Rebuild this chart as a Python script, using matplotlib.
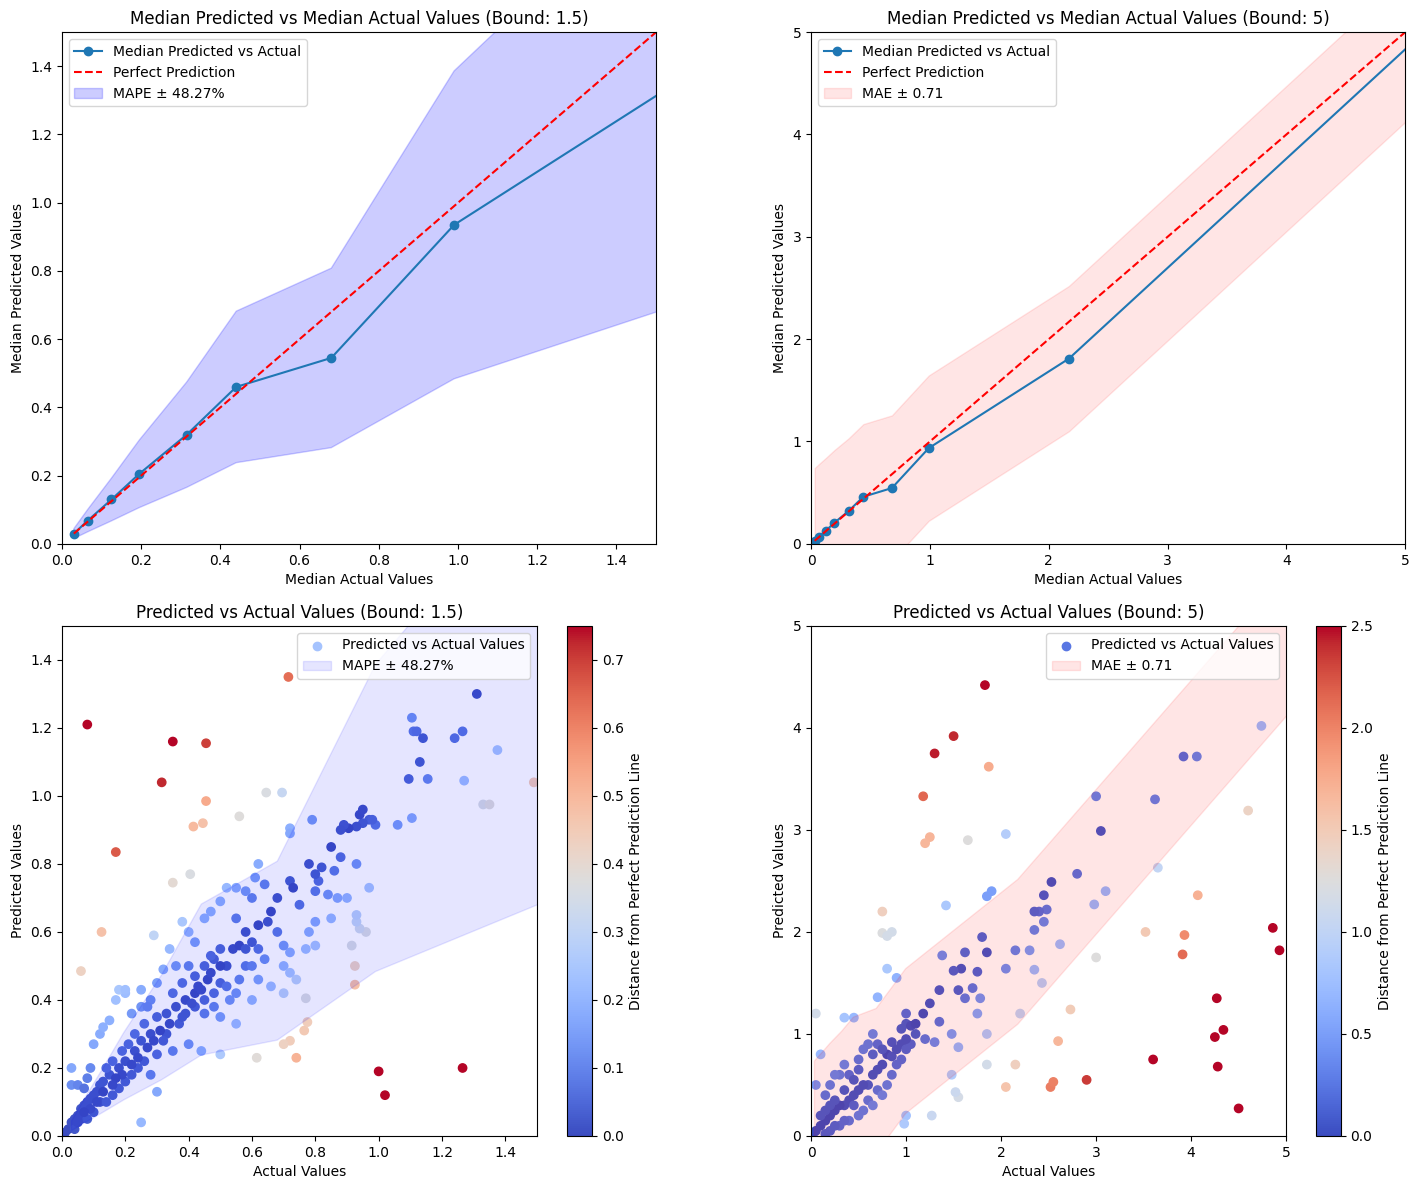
import numpy as np
import matplotlib
matplotlib.use("Agg")
import matplotlib.pyplot as plt

med_actual = [0.03, 0.065, 0.125, 0.195, 0.315, 0.44, 0.68, 0.99, 2.17, 6.0]
med_pred = [0.03, 0.068, 0.13, 0.205, 0.32, 0.46, 0.545, 0.935, 1.81, 5.9]
mape = 0.4827
mae = 0.71

left_pts = [(0.08,1.21),(0.35,1.16),(0.455,1.155),(0.315,1.04),(0.715,1.35),(0.17,0.835),(0.125,0.6),(0.06,0.485),(0.455,0.985),(0.445,0.92),(0.415,0.91),(0.35,0.745),(0.405,0.77),(0.56,0.94),(0.645,1.01),(0.695,1.01),(1.0,0.19),(1.02,0.12),(1.265,0.2),(0.74,0.23),(0.765,0.31),(0.775,0.335),(0.615,0.23),(0.925,0.445),(0.925,0.5),(0.915,0.56),(0.96,0.6),(0.94,0.61),(0.93,0.63),(1.31,1.3),(1.24,1.17),(1.265,1.19),(1.105,1.23),(1.11,1.19),(1.12,1.19),(1.14,1.17),(1.13,1.1),(1.095,1.05),(1.155,1.05),(1.27,1.045),(1.33,0.975),(1.35,0.975),(1.49,1.04),(1.375,1.135),(1.105,0.935),(1.06,0.915),(0.97,0.93),(0.99,0.915),(0.95,0.92),(0.93,0.91),(0.94,0.945),(0.905,0.905),(0.89,0.915),(0.88,0.9),(0.85,0.85),(0.88,0.82),(0.86,0.78),(0.79,0.93),(0.72,0.905),(0.72,0.89),(0.72,0.75),(0.73,0.73),(0.75,0.68),(0.8,0.72),(0.81,0.75),(0.78,0.8),(0.8,0.77),(0.82,0.79),(0.84,0.71),(0.87,0.7),(0.9,0.7),(0.97,0.73),(0.93,0.65),(0.85,0.64),(0.8,0.63),(0.78,0.6),(0.77,0.55),(0.72,0.54),(0.7,0.56),(0.68,0.6),(0.68,0.7),(0.66,0.66),(0.64,0.74),(0.61,0.76),(0.6,0.7),(0.58,0.72),(0.55,0.73),(0.52,0.73),(0.5,0.69),(0.47,0.66),(0.45,0.64),(0.55,0.64),(0.62,0.62),(0.6,0.57),(0.58,0.5),(0.62,0.46),(0.66,0.44),(0.7,0.5),(0.72,0.48),(0.74,0.46),(0.77,0.405),(0.7,0.42),(0.72,0.28),(0.7,0.27),(0.6,0.4),(0.55,0.42),(0.53,0.4),(0.5,0.35),(0.55,0.33),(0.5,0.24),(0.44,0.25),(0.4,0.27),(0.35,0.25),(0.3,0.24),(0.33,0.3),(0.37,0.33),(0.42,0.38),(0.45,0.4),(0.48,0.42),(0.5,0.45),(0.52,0.5),(0.54,0.55),(0.5,0.55),(0.48,0.52),(0.45,0.5),(0.42,0.47),(0.4,0.5),(0.38,0.45),(0.35,0.42),(0.36,0.5),(0.34,0.55),(0.32,0.49),(0.3,0.45),(0.28,0.4),(0.25,0.38),(0.22,0.36),(0.2,0.42),(0.18,0.43),(0.2,0.43),(0.17,0.4),(0.29,0.59),(0.38,0.63),(0.4,0.6),(0.42,0.57),(0.25,0.43),(0.27,0.38),(0.3,0.35),(0.28,0.3),(0.25,0.28),(0.23,0.25),(0.2,0.22),(0.18,0.2),(0.15,0.18),(0.12,0.15),(0.1,0.12),(0.08,0.1),(0.06,0.08),(0.04,0.05),(0.02,0.02),(0.01,0.01),(0.03,0.04),(0.05,0.06),(0.07,0.09),(0.09,0.11),(0.11,0.13),(0.13,0.16),(0.14,0.2),(0.16,0.22),(0.19,0.25),(0.21,0.27),(0.23,0.3),(0.26,0.33),(0.12,0.3),(0.1,0.27),(0.13,0.32),(0.15,0.34),(0.03,0.15),(0.03,0.2),(0.05,0.15),(0.07,0.14),(0.09,0.2),(0.08,0.17),(0.06,0.05),(0.04,0.02),(0.08,0.05),(0.1,0.07),(0.12,0.1),(0.14,0.1),(0.16,0.12),(0.18,0.14),(0.2,0.16),(0.22,0.18),(0.24,0.2),(0.26,0.22),(0.3,0.13),(0.25,0.04),(0.28,0.18),(0.32,0.28),(0.38,0.35),(0.42,0.42),(0.46,0.46),(0.36,0.38),(0.33,0.36),(0.39,0.4),(0.43,0.44),(0.47,0.53),(0.5,0.5),(0.56,0.56),(0.58,0.55),(0.62,0.55),(0.65,0.63),(0.45,0.36),(0.48,0.38),(0.52,0.44),(0.56,0.46),(0.6,0.5),(0.64,0.52),(0.8,0.56),(0.62,0.8),(0.58,0.6),(0.39,0.36),(0.41,0.39),(0.44,0.43),(0.47,0.48),(0.34,0.33),(0.31,0.31),(0.29,0.28),(0.27,0.26),(0.24,0.23),(0.22,0.21),(0.19,0.18),(0.17,0.17),(0.16,0.15),(0.13,0.13),(0.11,0.1),(0.09,0.08),(0.07,0.07),(0.05,0.04),(0.95,0.96),(0.93,0.8),(0.98,0.93)]

right_pts = [(1.83,4.42),(1.5,3.92),(1.3,3.75),(1.87,3.62),(1.18,3.33),(1.25,2.93),(1.2,2.87),(1.65,2.9),(2.05,2.96),(1.85,2.35),(1.9,2.4),(1.42,2.26),(0.75,2.2),(0.75,1.99),(0.85,2.0),(0.8,1.96),(0.8,1.64),(0.7,1.36),(0.05,1.2),(0.35,1.16),(0.45,1.16),(0.65,1.0),(1.0,0.2),(0.98,0.12),(1.27,0.2),(1.55,0.38),(1.52,0.43),(1.48,0.6),(1.85,0.7),(2.15,0.7),(2.05,0.48),(2.52,0.48),(2.55,0.53),(2.6,0.93),(2.9,0.55),(2.73,1.24),(3.0,1.75),(2.98,2.27),(3.1,2.4),(3.0,3.33),(3.05,2.99),(3.52,2.0),(3.65,2.63),(3.62,3.3),(3.92,3.72),(4.06,3.72),(4.6,3.19),(4.74,4.02),(4.07,2.36),(3.93,1.97),(3.91,1.78),(4.27,1.35),(4.34,1.04),(4.25,0.97),(4.28,0.68),(3.6,0.75),(4.5,0.27),(4.86,2.04),(4.93,1.82),(2.8,2.57),(2.53,2.49),(2.45,2.36),(2.48,2.22),(2.4,2.2),(2.35,2.2),(2.45,2.1),(2.35,2.02),(2.3,1.82),(2.15,1.82),(2.05,1.64),(2.35,1.63),(2.62,1.88),(2.43,1.5),(2.2,1.2),(1.8,1.95),(1.85,1.8),(1.62,1.8),(1.75,1.61),(1.58,1.64),(1.5,1.62),(1.55,1.43),(1.62,1.35),(1.7,1.45),(1.78,1.35),(1.75,1.2),(1.85,1.0),(1.38,1.77),(1.35,1.43),(1.25,1.3),(1.18,1.2),(1.35,1.12),(1.55,0.87),(1.48,1.0),(1.2,0.95),(1.3,0.92),(1.1,1.0),(1.0,1.2),(1.0,1.1),(0.95,1.05),(1.05,1.08),(1.1,1.1),(0.9,1.55),(1.05,0.9),(0.95,0.9),(0.85,0.92),(0.8,0.8),(0.75,0.7),(0.7,0.65),(0.65,0.6),(0.6,0.5),(0.55,0.5),(0.5,0.45),(0.45,0.4),(0.4,0.35),(0.35,0.3),(0.3,0.3),(0.25,0.25),(0.2,0.2),(0.15,0.15),(0.1,0.1),(0.05,0.05),(0.02,0.02),(0.1,0.2),(0.15,0.4),(0.2,0.5),(0.3,0.6),(0.35,0.7),(0.4,0.6),(0.5,0.75),(0.55,0.85),(0.6,0.9),(0.7,0.9),(0.75,0.85),(0.85,0.78),(0.6,0.35),(0.7,0.45),(0.8,0.5),(0.5,0.2),(0.4,0.15),(0.3,0.1),(0.2,0.05),(0.15,0.02),(0.1,0.8),(0.05,0.5),(0.25,0.6),(0.65,0.3),(0.55,0.25),(0.45,0.3),(0.35,0.15),(0.25,0.1),(0.9,0.7),(0.85,0.6),(0.75,0.4),(0.65,0.8),(0.45,0.55),(0.35,0.45),(0.25,0.35),(0.2,0.3),(0.15,0.25),(0.5,0.65),(0.9,0.85),(1.0,0.85),(1.0,0.95),(0.95,0.75)]

ma = np.array(med_actual); mp = np.array(med_pred)
fig = plt.figure(figsize=(14.18, 11.9), dpi=100)
ax_tl = fig.add_axes([0.0437, 0.543, 0.419, 0.430])
ax_tr = fig.add_axes([0.572, 0.543, 0.419, 0.430])
ax_bl = fig.add_axes([0.0437, 0.0454, 0.335, 0.4286])
ax_br = fig.add_axes([0.572, 0.0454, 0.335, 0.4286])
cax_bl = fig.add_axes([0.400, 0.0454, 0.0176, 0.4286])
cax_br = fig.add_axes([0.928, 0.0454, 0.0176, 0.4286])

ax = ax_tl
ax.plot(ma, mp, marker='o', label='Median Predicted vs Actual')
ax.plot([ma[0], 1.5], [ma[0], 1.5], 'r--', label='Perfect Prediction')
ax.fill_between(ma, mp*(1-mape), mp*(1+mape), color='blue', alpha=0.2, label=f'MAPE ± {mape*100:.2f}%')
ax.set_xlim(0, 1.5); ax.set_ylim(0, 1.5)
ax.set_title('Median Predicted vs Median Actual Values (Bound: 1.5)')
ax.set_xlabel('Median Actual Values'); ax.set_ylabel('Median Predicted Values')
ax.legend(loc='upper left')

ax = ax_tr
ax.plot(ma, mp, marker='o', label='Median Predicted vs Actual')
ax.plot([ma[0], 5], [ma[0], 5], 'r--', label='Perfect Prediction')
ax.fill_between(ma, mp-mae, mp+mae, color='red', alpha=0.1, label=f'MAE ± {mae:.2f}')
ax.set_xlim(0, 5); ax.set_ylim(0, 5)
ax.set_title('Median Predicted vs Median Actual Values (Bound: 5)')
ax.set_xlabel('Median Actual Values'); ax.set_ylabel('Median Predicted Values')
ax.legend(loc='upper left')

def scat(ax, cax, pts, bound, band_lo, band_hi, color, label, hcol):
    x = np.array([p[0] for p in pts]); y = np.array([p[1] for p in pts])
    d = np.abs(y - x)
    sc = ax.scatter(x, y, c=d, cmap='coolwarm', vmin=0, vmax=bound/2, label='Predicted vs Actual Values')
    ax.fill_between(ma, band_lo, band_hi, color=color, alpha=0.1, label=label)
    ax.set_xlim(0, bound); ax.set_ylim(0, bound)
    ax.set_title(f'Predicted vs Actual Values (Bound: {bound})')
    ax.set_xlabel('Actual Values'); ax.set_ylabel('Predicted Values')
    cb = fig.colorbar(sc, cax=cax)
    cb.set_label('Distance from Perfect Prediction Line')
    leg = ax.legend(loc='upper right')
    h = leg.legend_handles[0]
    h.set_array(None)
    h.set_facecolor(hcol)
    h.set_edgecolor(hcol)

scat(ax_bl, cax_bl, left_pts, 1.5, mp*(1-mape), mp*(1+mape), 'blue', f'MAPE ± {mape*100:.2f}%', '#a5c3fe')
scat(ax_br, cax_br, right_pts, 5, mp-mae, mp+mae, 'red', f'MAE ± {mae:.2f}', '#5977e3')

plt.savefig('out.png')
